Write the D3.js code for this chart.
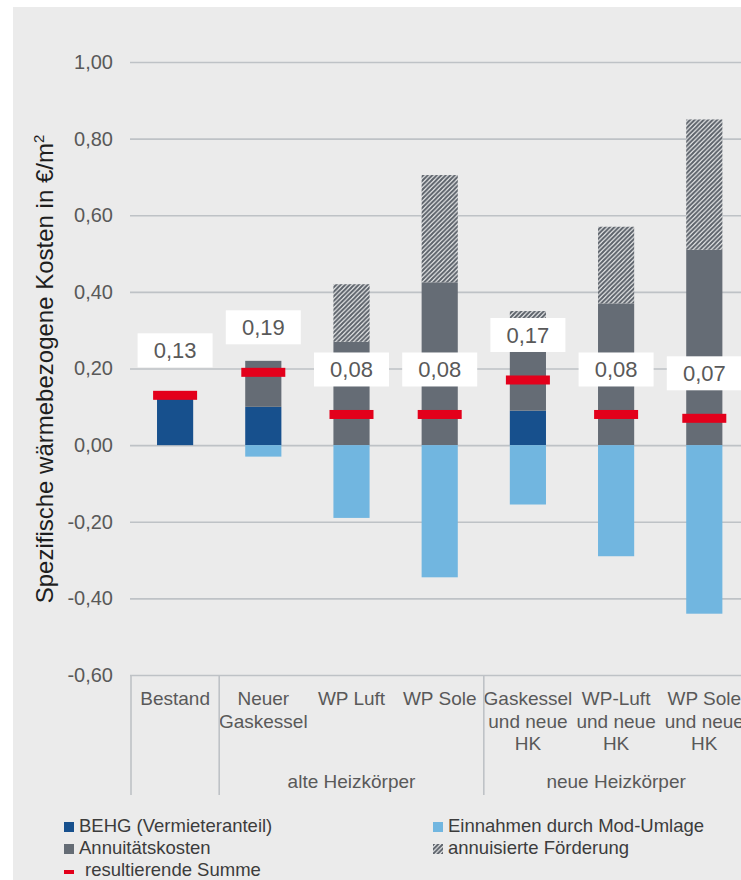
<!DOCTYPE html>
<html>
<head>
<meta charset="utf-8">
<script src="https://cdn.jsdelivr.net/npm/d3@7"></script>
<style>
  html, body { margin: 0; padding: 0; background: #ffffff; }
  svg { display: block; font-family: "Liberation Sans", Arial, sans-serif; }
</style>
</head>
<body>
<svg id="chart" width="741" height="880"></svg>
<script>
// Kategorien (Zeilenumbrüche mit \n)
const categories = [
  "Bestand",
  "Neuer\nGaskessel",
  "WP Luft",
  "WP Sole",
  "Gaskessel\nund neue\nHK",
  "WP-Luft\nund neue\nHK",
  "WP Sole\nund neue\nHK"
];
// Gruppen der Kategorieachse
const groupNames = ["", "alte Heizkörper", "neue Heizkörper"];
const groupSizes = [1, 3, 3];

// Reihen in €/m²
const behg       = [0.13, 0.10, 0.00, 0.00,  0.09,  0.00, 0.00];
const annuitaet  = [0.00, 0.12, 0.27, 0.425, 0.235, 0.37, 0.51];
const foerderung = [0.00, 0.00, 0.15, 0.28,  0.025, 0.20, 0.34];
const einnahmen  = [0.00, -0.03, -0.19, -0.345, -0.155, -0.29, -0.44];
const summe      = [0.13, 0.19, 0.08, 0.08, 0.17, 0.08, 0.07];

const yTicks = [-0.6, -0.4, -0.2, 0, 0.2, 0.4, 0.6, 0.8, 1.0];

const seriesKeys = ["behg", "annuitaet", "foerderung", "einnahmen"];
const seriesLabels = {
  behg: "BEHG (Vermieteranteil)",
  annuitaet: "Annuitätskosten",
  foerderung: "annuisierte Förderung",
  einnahmen: "Einnahmen durch Mod-Umlage",
  summe: "resultierende Summe"
};
const colors = {
  behg: "#17508d",
  annuitaet: "#656c75",
  einnahmen: "#71b6e0",
  summe: "#e3001b",
  bg: "#ebebeb",
  grid: "#bec2c6",
  tick: "#595959"
};

const rows = categories.map((c, i) => ({
  cat: c, behg: behg[i], annuitaet: annuitaet[i],
  foerderung: foerderung[i], einnahmen: einnahmen[i], summe: summe[i]
}));

const svg = d3.select("#chart");

// Hintergrund
svg.append("rect").attr("x", 13).attr("y", 7)
  .attr("width", 741 - 13).attr("height", 880 - 7)
  .attr("fill", colors.bg);

// Schraffur für die Förderung
const defs = svg.append("defs");
const pw = 4.5;
const pat = defs.append("pattern")
  .attr("id", "hatch").attr("patternUnits", "userSpaceOnUse")
  .attr("width", pw).attr("height", pw);
pat.append("rect").attr("width", pw).attr("height", pw).attr("fill", "#ffffff");
pat.append("path")
  .attr("d", `M-1,1 L1,-1 M0,${pw} L${pw},0 M${pw - 1},${pw + 1} L${pw + 1},${pw - 1}`)
  .attr("stroke", "#5d636b").attr("stroke-width", 2.1);
const fillOf = k => k === "foerderung" ? "url(#hatch)" : colors[k];

// Skalen
const left = 131, step = 88.2;
const x = d3.scaleBand()
  .domain(categories)
  .range([left, left + step * categories.length])
  .paddingInner(0.59).paddingOuter(0.295);
const y = d3.scaleLinear().domain([-0.6, 1.0]).range([675, 62]);
const fmt = v => d3.format(".2f")(v).replace(".", ",").replace("−", "-");

// Y-Achse mit Gitterlinien
const yAxis = svg.append("g")
  .attr("transform", "translate(130,0)")
  .call(d3.axisLeft(y).tickValues(yTicks).tickFormat(fmt)
    .tickSizeInner(-(741 - 130)).tickSizeOuter(0).tickPadding(17));
yAxis.select(".domain").remove();
yAxis.selectAll(".tick line").attr("stroke", colors.grid).attr("stroke-width", 1.6);
yAxis.selectAll(".tick text")
  .attr("fill", colors.tick).attr("font-size", 20)
  .attr("font-family", "Liberation Sans, Arial, sans-serif");

// Y-Achsentitel
svg.append("text")
  .attr("transform", "translate(53,369) rotate(-90)")
  .attr("text-anchor", "middle")
  .attr("font-size", 24).attr("fill", "#1e1e1e")
  .text("Spezifische wärmebezogene Kosten in €/m")
  .append("tspan").attr("font-size", 15).attr("dy", -9).text("2");

// Gestapelte Balken
const stacked = d3.stack().keys(seriesKeys).offset(d3.stackOffsetDiverging)(rows);
svg.append("g").selectAll("g")
  .data(stacked).join("g")
  .attr("fill", d => fillOf(d.key))
  .selectAll("rect")
  .data(d => d.filter(s => s[1] !== s[0]))
  .join("rect")
  .attr("x", d => x(d.data.cat))
  .attr("width", x.bandwidth())
  .attr("y", d => y(Math.max(d[0], d[1])))
  .attr("height", d => Math.abs(y(d[0]) - y(d[1])));

// Resultierende Summe als Markierung
const markW = 44, markH = 9;
svg.append("g").selectAll("rect")
  .data(rows).join("rect")
  .attr("x", d => x(d.cat) + x.bandwidth() / 2 - markW / 2)
  .attr("y", d => y(d.summe) - markH / 2)
  .attr("width", markW).attr("height", markH)
  .attr("fill", colors.summe);

// Wertebeschriftungen
const boxW = 75, boxH = 34, boxOff = 45;
const lab = svg.append("g").selectAll("g")
  .data(rows).join("g")
  .attr("transform", d => `translate(${x(d.cat) + x.bandwidth() / 2},${y(d.summe) - boxOff})`);
lab.append("rect")
  .attr("x", -boxW / 2).attr("y", -boxH / 2)
  .attr("width", boxW).attr("height", boxH)
  .attr("fill", "#ffffff");
lab.append("text")
  .attr("text-anchor", "middle").attr("dy", 8)
  .attr("font-size", 22).attr("fill", colors.tick)
  .text(d => fmt(d.summe));

// Kategorieachse
const xAxis = svg.append("g")
  .attr("transform", "translate(0,675)")
  .call(d3.axisBottom(x).tickSize(0).tickPadding(0).tickFormat(() => ""));
xAxis.select(".domain").remove();
xAxis.selectAll(".tick text").each(function (d) {
  const t = d3.select(this)
    .attr("font-size", 19).attr("fill", colors.tick)
    .attr("font-family", "Liberation Sans, Arial, sans-serif")
    .attr("y", 30).attr("dy", 0);
  d.split("\n").forEach((line, i) => {
    t.append("tspan").attr("x", 0).attr("dy", i === 0 ? 0 : 22.5).text(line);
  });
});

// Gruppengrenzen und Gruppennamen
const half = (step - x.bandwidth()) / 2;
let idx = 0;
const bounds = [x(categories[0]) - half];
const groupCenters = [];
groupSizes.forEach((n, g) => {
  const start = x(categories[idx]) - half;
  const end = x(categories[idx + n - 1]) + x.bandwidth() + half;
  bounds.push(end);
  groupCenters.push({ name: groupNames[g], cx: (start + end) / 2 });
  idx += n;
});
svg.append("g").selectAll("line")
  .data(bounds).join("line")
  .attr("x1", d => d).attr("x2", d => d)
  .attr("y1", 675).attr("y2", 795)
  .attr("stroke", colors.grid).attr("stroke-width", 1.6);
svg.append("g").selectAll("text")
  .data(groupCenters).join("text")
  .attr("x", d => d.cx).attr("y", 788)
  .attr("text-anchor", "middle")
  .attr("font-size", 19).attr("fill", colors.tick)
  .text(d => d.name);

// Legende
const legendItems = [
  { key: "behg", x: 64, y: 832 },
  { key: "annuitaet", x: 64, y: 854 },
  { key: "summe", x: 64, y: 876 },
  { key: "einnahmen", x: 433, y: 832 },
  { key: "foerderung", x: 433, y: 854 }
];
const leg = svg.append("g").selectAll("g")
  .data(legendItems).join("g")
  .attr("transform", d => `translate(${d.x},${d.y})`);
leg.append("rect")
  .attr("x", 0)
  .attr("y", d => d.key === "summe" ? -6 : -10)
  .attr("width", 10)
  .attr("height", d => d.key === "summe" ? 4 : 10)
  .attr("fill", d => d.key === "summe" ? colors.summe : fillOf(d.key));
leg.append("text")
  .attr("x", d => d.key === "summe" ? 21 : 15)
  .attr("font-size", 18.5).attr("fill", "#3c3c3c")
  .text(d => seriesLabels[d.key]);
</script>
</body>
</html>
